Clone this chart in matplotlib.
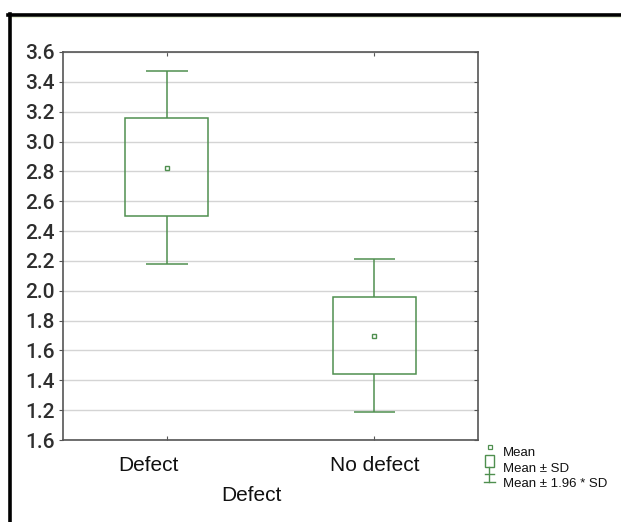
import matplotlib
matplotlib.use("Agg")
import matplotlib.pyplot as plt
from matplotlib.patches import Rectangle
from matplotlib.lines import Line2D
import numpy as np

# data
categories = ["Defect", "No defect"]
means = [2.82, 1.70]
sd_low = [2.50, 1.44]
sd_high = [3.16, 1.96]
ci_low = [2.18, 1.19]
ci_high = [3.47, 2.21]
ytick_vals = [1.0, 1.2, 1.4, 1.6, 1.8, 2.0, 2.2, 2.4, 2.6, 2.8, 3.0, 3.2, 3.4, 3.6]
ytick_labels = ["1.6", "1.2", "1.4", "1.6", "1.8", "2.0", "2.2", "2.4", "2.6", "2.8", "3.0", "3.2", "3.4", "3.6"]
legend_labels = ["Mean", "Mean ± SD", "Mean ± 1.96 * SD"]

green = "#4f8f4f"
spine = "#555555"
narrow = ["Roboto", "Liberation Sans", "DejaVu Sans"]
sans = ["Liberation Sans", "DejaVu Sans"]

fig = plt.figure(figsize=(6.21, 5.22), dpi=100)
ax = fig.add_axes([63 / 621, 1 - 440 / 522, (478 - 63) / 621, (440 - 52) / 522])

pos = np.arange(1, len(categories) + 1)
box_w = 0.4
cap_w = 0.2
for x, m, lo, hi, clo, chi in zip(pos, means, sd_low, sd_high, ci_low, ci_high):
    ax.add_patch(Rectangle((x - box_w / 2, lo), box_w, hi - lo, fill=False, ec=green, lw=1.1, zorder=3))
    ax.vlines(x, hi, chi, color=green, lw=1.1, zorder=3)
    ax.vlines(x, clo, lo, color=green, lw=1.1, zorder=3)
    ax.hlines([clo, chi], x - cap_w / 2, x + cap_w / 2, color=green, lw=1.1, zorder=3)
    ax.plot(x, m, "s", ms=3.5, mfc="white", mec=green, mew=1.0, zorder=4)

ax.set_xlim(0.5, 2.5)
ax.set_ylim(1.0, 3.6)
ax.set_yticks(ytick_vals)
ax.set_yticklabels(ytick_labels, family=narrow, fontsize=15, weight="medium", color="#2e2e2e")
ax.set_xticks(pos)
ax.set_xticklabels([])
ax.tick_params(axis="y", direction="out", length=3, width=0.8, color=spine, pad=3, right=True)
ax.tick_params(axis="x", direction="in", length=3, width=0.8, color=spine, top=True)
# right-side y ticks point inward
for t in ax.yaxis.get_major_ticks():
    t.tick2line.set_marker(0)
ax.grid(axis="y", color="#d4d4d4", lw=1.0)
ax.set_axisbelow(True)
for s in ax.spines.values():
    s.set_color(spine)
    s.set_linewidth(1.2)

# category labels (Defect sits a little left of its tick in the original)
offsets = [-0.087, 0.0]
for x, lab, off in zip(pos, categories, offsets):
    ax.text(x + off, -0.04, lab, transform=ax.get_xaxis_transform(), ha="center", va="top",
            fontsize=15, family=sans, color="#111111")
ax.text(0.455, -0.118, "Defect", transform=ax.transAxes, ha="center", va="top",
        fontsize=15, family=sans, color="#111111")

# legend drawn by hand in figure pixels
def fx(px):
    return px / 621

def fy(py):
    return 1 - py / 522

fig.add_artist(Line2D([fx(490)], [fy(447)], marker="s", ms=3, mfc="white", mec=green, mew=0.9))
fig.add_artist(Rectangle((fx(485), fy(467)), fx(9), 12 / 522, fill=False, ec=green, lw=1.0))
fig.add_artist(Line2D([fx(489.5), fx(489.5)], [fy(467), fy(482)], color=green, lw=1.0))
fig.add_artist(Line2D([fx(485), fx(494)], [fy(474), fy(474)], color=green, lw=1.0))
fig.add_artist(Line2D([fx(484), fx(495)], [fy(482), fy(482)], color=green, lw=1.0))
for py, lab in zip([453, 469, 484], legend_labels):
    fig.text(fx(503), fy(py), lab, fontsize=9.5, family=sans, va="center", ha="left", color="#111111")

# outer black frame (top and left)
fig.add_artist(Line2D([fx(8), 1], [fy(14.5), fy(14.5)], color="black", lw=2.6))
fig.add_artist(Line2D([fx(10), 1], [fy(16.5), fy(16.5)], color="#e6eed2", lw=0.8))
fig.add_artist(Line2D([fx(9.5), fx(9.5)], [fy(13.5), 0], color="black", lw=2.6))

fig.savefig("out.png", dpi=100, facecolor="white")
